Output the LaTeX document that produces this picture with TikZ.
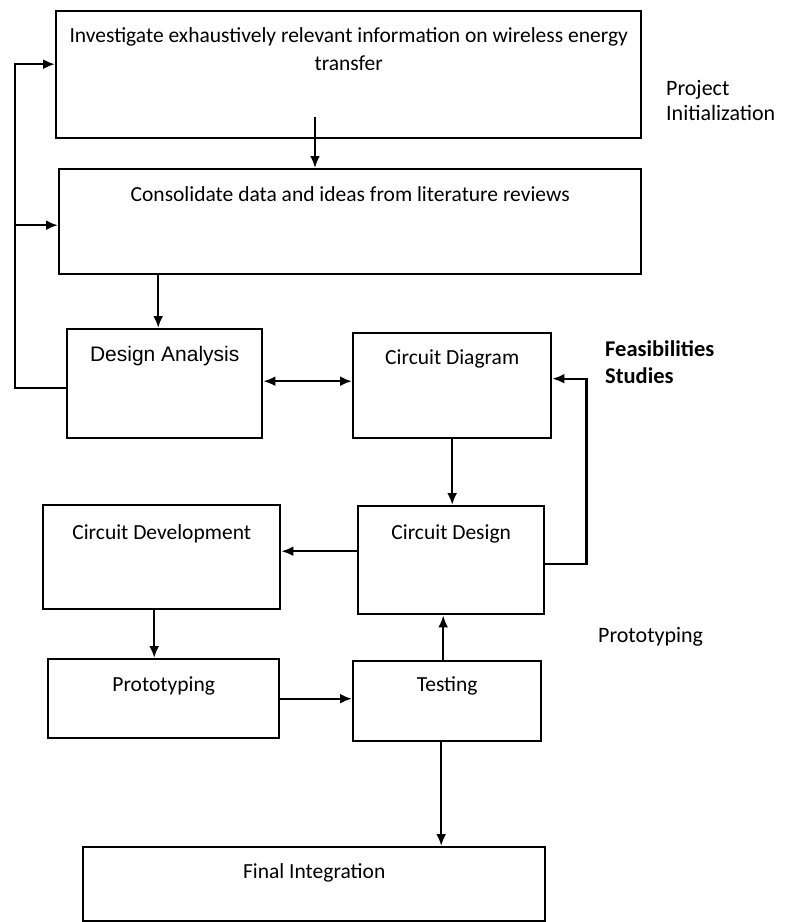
\documentclass[tikz,border=0pt]{standalone}
\usepackage{fontspec}
\setmainfont{Carlito}
\newfontfamily\arialfont{Liberation Sans}
\usetikzlibrary{arrows.meta}

\tikzset{every picture/.style={line width=2.4pt}}

\begin{document}
\begin{tikzpicture}[x=1pt,y=1pt,yscale=-1,
  stepbox/.style={draw, inner sep=0pt, anchor=north west, align=center, font=\fontsize{21.5}{28}\selectfont},
  phase/.style={inner sep=0pt, anchor=north west, align=left, font=\fontsize{22}{25}\selectfont},
  arr/.style={-{Latex[length=12pt,width=10pt]}},
  dbl/.style={{Latex[length=12pt,width=10pt]}-{Latex[length=12pt,width=10pt]}}]
\useasboundingbox (0,0) rectangle (786,922);

%Box: literature search
\node[stepbox, minimum width=585, minimum height=127, text height=59, text depth=68] (init) at (55,10) {Investigate exhaustively relevant information on wireless energy\\transfer};
%Box: consolidate
\node[stepbox, minimum width=582, minimum height=105, text height=32, text depth=73] (cons) at (58,168) {Consolidate data and ideas from literature reviews};
%Box: design analysis
\node[stepbox, minimum width=195, minimum height=109, text height=32, text depth=77, font=\arialfont\fontsize{21}{25}\selectfont] (dsgn) at (66,328) {Design Analysis};
%Box: circuit diagram
\node[stepbox, minimum width=198, minimum height=105, text height=31, text depth=74] (cdia) at (352,332) {Circuit Diagram};
%Box: circuit design
\node[stepbox, minimum width=186, minimum height=108, text height=33, text depth=75] (cdes) at (357,505) {Circuit Design};
%Box: circuit development
\node[stepbox, minimum width=237, minimum height=104, text height=34, text depth=70] (cdev) at (42,504) {Circuit Development};
%Box: prototyping
\node[stepbox, minimum width=231, minimum height=79, text height=32, text depth=47] (proto) at (47,658) {Prototyping};
%Box: testing
\node[stepbox, minimum width=188, minimum height=80, text height=30, text depth=50] (test) at (352,660) {Testing};
%Box: final integration
\node[stepbox, minimum width=462, minimum height=74, text height=31, text depth=43] (final) at (82,846) {Final Integration};

%Phase labels
\node[phase] (phinit) at (665,79) {Project\\Initialization};
\node[phase, font=\bfseries\fontsize{22.5}{27}\selectfont] (phfeas) at (604,339) {Feasibilities\\Studies};
\node[phase, anchor=base west] (phproto) at (597,642) {Prototyping};

%Helper points
\coordinate (initout) at (315,117);
\coordinate (dsgnin) at ([xshift=-6.5pt]dsgn.north);
\coordinate (linkda) at ([yshift=-2.5pt]dsgn.east);
\coordinate (cdesout) at ([yshift=-9pt]cdes.west);
\coordinate (protoin) at ([xshift=-9.5pt]proto.north);
\coordinate (testup) at ([xshift=-4pt]test.north);
\coordinate (testdn) at ([xshift=-6pt]test.south);

%Arrows
\draw[arr] (initout) -- (initout |- cons.north);
\draw[arr] ([yshift=4.5pt]dsgn.west) -- ++(-51,0) |- ([yshift=-10.5pt]init.west);
\draw[arr] ([shift={(-43,3.5)}]cons.west) -- ([yshift=3.5pt]cons.west);
\draw[arr] (dsgnin |- cons.south) -- (dsgnin);
\draw[dbl] (linkda) -- (linkda -| cdia.west);
\draw[arr] (cdia.south) -- (cdia.south |- cdes.north);
\draw[arr] ([yshift=4pt]cdes.east) -- ++(41,0) |- ([yshift=-7pt]cdia.east);
\draw[arr] (cdesout) -- (cdesout -| cdev.east);
\draw[arr] (protoin |- cdev.south) -- (protoin);
\draw[arr] (proto.east) -- (proto.east -| test.west);
\draw[arr] (testup) -- (testup |- cdes.south);
\draw[arr] (testdn) -- (testdn |- final.north);

\end{tikzpicture}
\end{document}
